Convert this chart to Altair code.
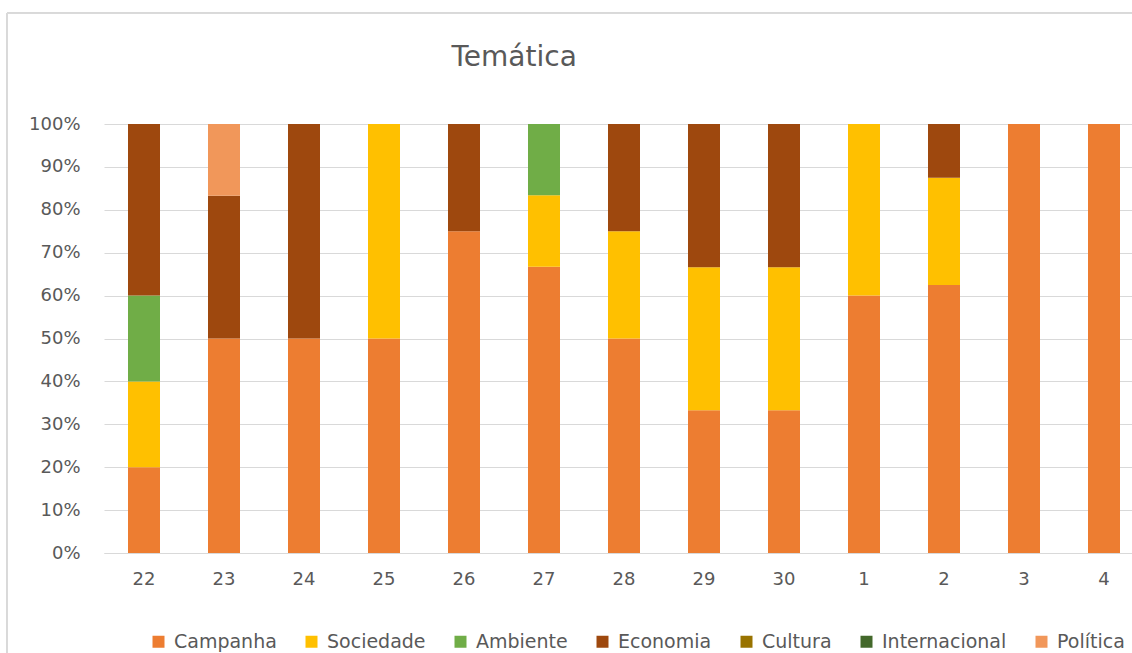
import altair as alt
import pandas as pd

days = ["22", "23", "24", "25", "26", "27", "28", "29", "30", "1", "2", "3", "4"]
themes = ["Campanha", "Sociedade", "Ambiente", "Economia", "Cultura", "Internacional", "Política"]
colors = ["#ED7D31", "#FFC000", "#70AD47", "#9E480E", "#997300", "#43682B", "#F1975A"]

campanha = [20, 50, 50, 50, 75, 66.7, 50, 33.3, 33.3, 60, 62.5, 100, 100]
sociedade = [20, 0, 0, 50, 0, 16.7, 25, 33.3, 33.3, 40, 25, 0, 0]
ambiente = [20, 0, 0, 0, 0, 16.6, 0, 0, 0, 0, 0, 0, 0]
economia = [40, 33.3, 50, 0, 25, 0, 25, 33.4, 33.4, 0, 12.5, 0, 0]
cultura = [0, 0, 0, 0, 0, 0, 0, 0, 0, 0, 0, 0, 0]
internacional = [0, 0, 0, 0, 0, 0, 0, 0, 0, 0, 0, 0, 0]
politica = [0, 16.7, 0, 0, 0, 0, 0, 0, 0, 0, 0, 0, 0]

series = [campanha, sociedade, ambiente, economia, cultura, internacional, politica]
rows = []
for ti, (name, vals) in enumerate(zip(themes, series)):
    for d, v in zip(days, vals):
        if v > 0:
            rows.append({"dia": d, "tema": name, "valor": v, "ordem": ti})
df = pd.DataFrame(rows)

FONT = "DejaVu Sans"
GREY = "#595959"
LINE = "#D9D9D9"

bars = alt.Chart(df).mark_bar().encode(
    x=alt.X("dia:N", sort=days, title=None,
            scale=alt.Scale(range=[0, 1040], paddingInner=0.6, paddingOuter=0.3),
            axis=alt.Axis(labelAngle=0, ticks=False, domainColor=LINE, labelPadding=17,
                          labelFontSize=18, labelFont=FONT, labelColor=GREY, grid=False)),
    y=alt.Y("valor:Q", stack="normalize", title=None,
            scale=alt.Scale(domain=[0, 1]),
            axis=alt.Axis(format=".0%", values=[i / 10 for i in range(11)], ticks=False,
                          domain=False, gridColor=LINE, labelPadding=24, labelFontSize=18,
                          labelFont=FONT, labelColor=GREY)),
    color=alt.Color("tema:N", scale=alt.Scale(domain=themes, range=colors),
                    legend=alt.Legend(title=None, orient="none", direction="horizontal",
                                      columns=7, legendX=45, legendY=508, symbolType="square",
                                      symbolSize=144, symbolStrokeWidth=0, labelFontSize=19,
                                      labelFont=FONT, labelColor=GREY, labelOffset=6,
                                      columnPadding=25, padding=0)),
    order=alt.Order("ordem:Q", sort="ascending"),
)

frame_top = alt.Chart(df).mark_rule(color=LINE, strokeWidth=1).encode(
    x=alt.value(-97), x2=alt.value(1040), y=alt.value(-111))
frame_left = alt.Chart(df).mark_rule(color=LINE, strokeWidth=1).encode(
    x=alt.value(-97), y=alt.value(-111), y2=alt.value(540))

chart = alt.layer(frame_top, frame_left, bars).properties(
    width=1028, height=429,
    padding={"left": 104, "top": 124, "right": 0, "bottom": 100},
    autosize=alt.AutoSizeParams(type="none"),
    title=alt.TitleParams("Temática", fontSize=28, font=FONT, fontWeight="normal",
                          color=GREY, anchor="start", dx=445, baseline="alphabetic", offset=-81),
).configure_view(stroke=None)

chart.save("out.html", embed_options={"renderer": "svg", "actions": False})
